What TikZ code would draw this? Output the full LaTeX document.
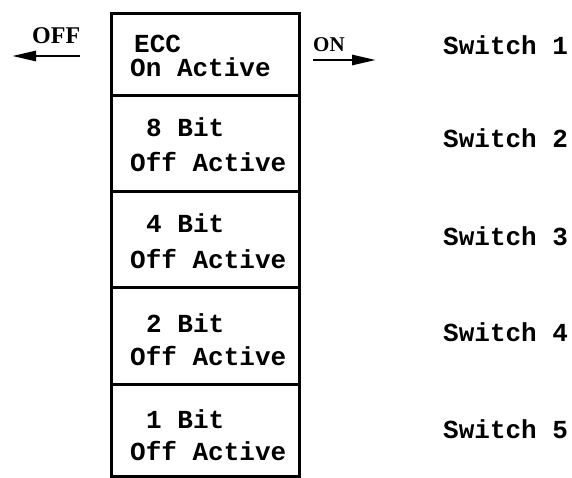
\documentclass[tikz,border=0pt]{standalone}
\usepackage{fontspec}
\usetikzlibrary{arrows.meta}
\newfontfamily\twfont{Liberation Mono}[BoldFont={* Bold}]
\newfontfamily\serfont{Liberation Serif}
\begin{document}
\begin{tikzpicture}[x=1pt,y=-1pt,
  cell/.style={draw,line width=2.6pt,minimum width=188pt,inner sep=0pt,anchor=north west},
  tw/.style={font=\twfont\bfseries\fontsize{26}{26}\selectfont,anchor=base west,inner sep=0pt},
  lbl/.style={font=\serfont\bfseries\fontsize{24}{24}\selectfont,anchor=base west,inner sep=0pt},
  arr/.style={line width=2.8pt,-{Triangle[length=24pt,width=10pt]}}]
\useasboundingbox (0,0) rectangle (572,478);
% boxes
\node[cell,minimum height=82pt] (b1) at (110,12) {};
\node[cell,minimum height=96pt] (b2) at (110,94) {};
\node[cell,minimum height=96pt] (b3) at (110,190) {};
\node[cell,minimum height=97pt] (b4) at (110,286) {};
\node[cell,minimum height=92pt] (b5) at (110,383) {};
% box texts
\node[tw,text depth=0pt] (t1a) at (134,53) {ECC};
\node[tw,text height=15pt] (t1b) at (130,77) {On Active};
\node[tw] (t2a) at (146,137) {8 Bit};
\node[tw] (t2b) at (130,172) {Off Active};
\node[tw] (t3a) at (146,233) {4 Bit};
\node[tw] (t3b) at (130,268) {Off Active};
\node[tw] (t4a) at (146,332) {2 Bit};
\node[tw] (t4b) at (130,365) {Off Active};
\node[tw] (t5a) at (146,428) {1 Bit};
\node[tw] (t5b) at (130,460) {Off Active};
% switch labels
\node[tw] (s1) at (443,55) {Switch 1};
\node[tw] (s2) at (443,148) {Switch 2};
\node[tw] (s3) at (443,245) {Switch 3};
\node[tw] (s4) at (443,341) {Switch 4};
\node[tw] (s5) at (443,438) {Switch 5};
% OFF / ON
\node[lbl] (off) at (32,44) {OFF};
\node[lbl,font=\serfont\bfseries\fontsize{21}{21}\selectfont] (on) at (313,52) {ON};
\coordinate (offs) at (80,56);
\coordinate (offe) at (12,56);
\coordinate (ons) at (313,60);
\coordinate (one) at (376,60);
\draw[arr] (offs) -- (offe);
\draw[arr] (ons) -- (one);
\end{tikzpicture}
\end{document}
